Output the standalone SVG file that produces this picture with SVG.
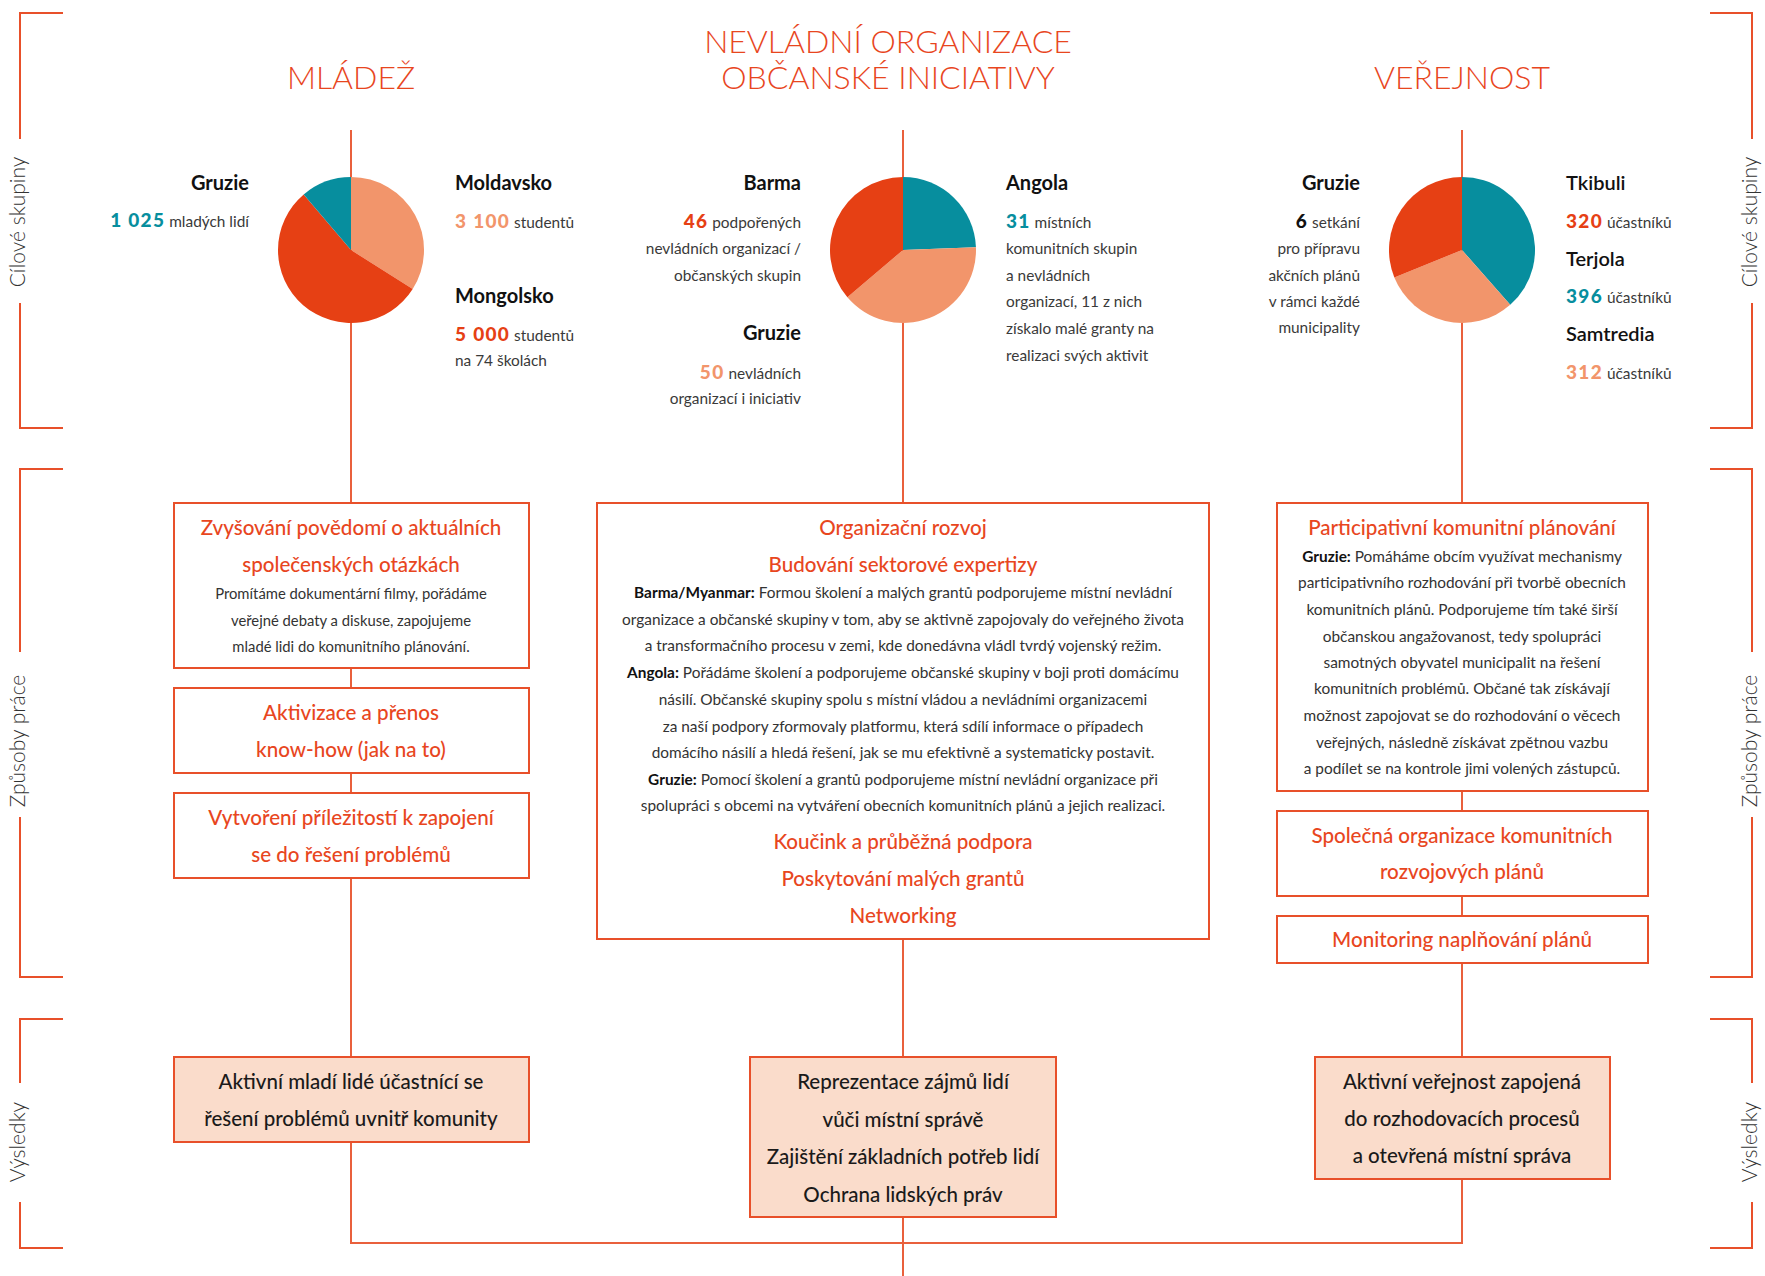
<svg xmlns="http://www.w3.org/2000/svg" width="1765" height="1276" viewBox="0 0 1765 1276">
<style>
text{font-family:Lato,"Liberation Sans",sans-serif}
.ttl{font-weight:300;font-size:32px;fill:#E8461E;text-anchor:middle}
.side{font-weight:300;font-size:21px;fill:#333;text-anchor:middle}
.cn{font-weight:700;font-size:20px;fill:#111}
.cm{font-weight:600;font-size:20px;fill:#111}
.lbl{font-size:15.4px;fill:#3a3a3a}
.num{font-weight:900;font-size:19px;letter-spacing:1.3px}
.e{text-anchor:end}
.h{font-size:20.6px;fill:#E8461E;text-anchor:middle;font-weight:500}
.b{font-size:15.4px;fill:#333;text-anchor:middle}
.bl{font-size:14.8px}
.bb{font-weight:700;fill:#111}
.r{font-size:20.5px;fill:#1a1a1a;text-anchor:middle;font-weight:500}
.box{fill:#fff;stroke:#E8502A;stroke-width:2}
.res{fill:#FADCCB;stroke:#E8502A;stroke-width:2}
.ln{stroke:#E9603C;stroke-width:2;fill:none}
.br{stroke:#E8502A;stroke-width:2;fill:none}
.red{fill:#E64014}.sal{fill:#F2956B}.teal{fill:#078E9E}.blk{fill:#111}
</style>

<g id="brackets">
<path class="br" d="M63,13H20V139M20,303V428H63"/>
<path class="br" d="M63,469H20V652M20,817V977H63"/>
<path class="br" d="M63,1019H20V1083M20,1202V1248H63"/>
<path class="br" d="M1710,13H1752V139M1752,303V428H1710"/>
<path class="br" d="M1710,469H1752V652M1752,817V977H1710"/>
<path class="br" d="M1710,1019H1752V1083M1752,1202V1248H1710"/>
<text class="side" transform="translate(25,222) rotate(-90)">Cílové skupiny</text>
<text class="side" transform="translate(25,741) rotate(-90)">Způsoby práce</text>
<text class="side" transform="translate(25,1142) rotate(-90)">Výsledky</text>
<text class="side" transform="translate(1757,222) rotate(-90)">Cílové skupiny</text>
<text class="side" transform="translate(1757,741) rotate(-90)">Způsoby práce</text>
<text class="side" transform="translate(1757,1142) rotate(-90)">Výsledky</text>
</g>

<g id="titles">
<text class="ttl" x="351" y="89">MLÁDEŽ</text>
<text class="ttl" x="888" y="53">NEVLÁDNÍ ORGANIZACE</text>
<text class="ttl" x="888" y="89">OBČANSKÉ INICIATIVY</text>
<text class="ttl" x="1462" y="89">VEŘEJNOST</text>
</g>

<g id="connectors">
<path class="ln" d="M351,130V1243H1462V130"/>
<path class="ln" d="M903,130V1276"/>
</g>

<g id="pie-youth">
<path class="sal" d="M351,250L351,177A73,73 0 0 1 412.71,289.01Z"/>
<path class="red" d="M351,250L412.71,289.01A73,73 0 1 1 303.69,194.41Z"/>
<path class="teal" d="M351,250L303.69,194.41A73,73 0 0 1 351,177Z"/>
<text class="cn e" x="249" y="190">Gruzie</text>
<text class="lbl e" x="249" y="227"><tspan class="num teal">1 025</tspan> mladých lidí</text>
<text class="cn" x="455" y="190">Moldavsko</text>
<text class="lbl" x="455" y="228"><tspan class="num sal">3 100</tspan> studentů</text>
<text class="cn" x="455" y="303">Mongolsko</text>
<text class="lbl" x="455" y="341"><tspan class="num red">5 000</tspan> studentů</text>
<text class="lbl" x="455" y="366">na 74 školách</text>
</g>

<g id="pie-ngo">
<path class="teal" d="M903,250L903,177A73,73 0 0 1 975.95,247.29Z"/>
<path class="sal" d="M903,250L975.95,247.29A73,73 0 0 1 847.37,297.27Z"/>
<path class="red" d="M903,250L847.37,297.27A73,73 0 0 1 903,177Z"/>
<text class="cn e" x="801" y="190">Barma</text>
<text class="lbl e" x="801" y="228"><tspan class="num red">46</tspan> podpořených</text>
<text class="lbl e" x="801" y="254">nevládních organizací /</text>
<text class="lbl e" x="801" y="281">občanských skupin</text>
<text class="cn e" x="801" y="340">Gruzie</text>
<text class="lbl e" x="801" y="379"><tspan class="num sal">50</tspan> nevládních</text>
<text class="lbl e" x="801" y="404">organizací i iniciativ</text>
<text class="cn" x="1006" y="190">Angola</text>
<text class="lbl" x="1006" y="228"><tspan class="num teal">31</tspan> místních</text>
<text class="lbl" x="1006" y="254">komunitních skupin</text>
<text class="lbl" x="1006" y="281">a nevládních</text>
<text class="lbl" x="1006" y="307">organizací, 11 z nich</text>
<text class="lbl" x="1006" y="334">získalo malé granty na</text>
<text class="lbl" x="1006" y="361">realizaci svých aktivit</text>
</g>

<g id="pie-public">
<path class="teal" d="M1462,250L1462,177A73,73 0 0 1 1510.21,304.82Z"/>
<path class="sal" d="M1462,250L1510.21,304.82A73,73 0 0 1 1394.34,277.41Z"/>
<path class="red" d="M1462,250L1394.34,277.41A73,73 0 0 1 1462,177Z"/>
<text class="cn e" x="1360" y="190">Gruzie</text>
<text class="lbl e" x="1360" y="228"><tspan class="num blk">6</tspan> setkání</text>
<text class="lbl e" x="1360" y="254">pro přípravu</text>
<text class="lbl e" x="1360" y="281">akčních plánů</text>
<text class="lbl e" x="1360" y="307">v rámci každé</text>
<text class="lbl e" x="1360" y="333">municipality</text>
<text class="cm" x="1566" y="190">Tkibuli</text>
<text class="lbl" x="1566" y="228"><tspan class="num red">320</tspan> účastníků</text>
<text class="cm" x="1566" y="266">Terjola</text>
<text class="lbl" x="1566" y="303"><tspan class="num teal">396</tspan> účastníků</text>
<text class="cm" x="1566" y="341">Samtredia</text>
<text class="lbl" x="1566" y="379"><tspan class="num sal">312</tspan> účastníků</text>
</g>

<g id="box-awareness">
<rect class="box" x="174" y="503" width="355" height="165"/>
<text class="h" x="351" y="535">Zvyšování povědomí o aktuálních</text>
<text class="h" x="351" y="572">společenských otázkách</text>
<text class="b bl" x="351" y="599">Promítáme dokumentární filmy, pořádáme</text>
<text class="b bl" x="351" y="626">veřejné debaty a diskuse, zapojujeme</text>
<text class="b bl" x="351" y="652">mladé lidi do komunitního plánování.</text>
</g>
<g id="box-activation">
<rect class="box" x="174" y="688" width="355" height="85"/>
<text class="h" x="351" y="720">Aktivizace a přenos</text>
<text class="h" x="351" y="757">know-how (jak na to)</text>
</g>
<g id="box-opportunities">
<rect class="box" x="174" y="793" width="355" height="85"/>
<text class="h" x="351" y="825">Vytvoření příležitostí k zapojení</text>
<text class="h" x="351" y="862">se do řešení problémů</text>
</g>

<g id="box-ngo">
<rect class="box" x="597" y="503" width="612" height="436"/>
<text class="h" x="903" y="535">Organizační rozvoj</text>
<text class="h" x="903" y="572">Budování sektorové expertizy</text>
<text class="b" x="903" y="598"><tspan class="bb">Barma/Myanmar:</tspan> Formou školení a malých grantů podporujeme místní nevládní</text>
<text class="b" x="903" y="625">organizace a občanské skupiny v tom, aby se aktivně zapojovaly do veřejného života</text>
<text class="b" x="903" y="651">a transformačního procesu v zemi, kde donedávna vládl tvrdý vojenský režim.</text>
<text class="b" x="903" y="678"><tspan class="bb">Angola:</tspan> Pořádáme školení a podporujeme občanské skupiny v boji proti domácímu</text>
<text class="b" x="903" y="705">násilí. Občanské skupiny spolu s místní vládou a nevládními organizacemi</text>
<text class="b" x="903" y="732">za naší podpory zformovaly platformu, která sdílí informace o případech</text>
<text class="b" x="903" y="758">domácího násilí a hledá řešení, jak se mu efektivně a systematicky postavit.</text>
<text class="b" x="903" y="785"><tspan class="bb">Gruzie:</tspan> Pomocí školení a grantů podporujeme místní nevládní organizace při</text>
<text class="b" x="903" y="811">spolupráci s obcemi na vytváření obecních komunitních plánů a jejich realizaci.</text>
<text class="h" x="903" y="849">Koučink a průběžná podpora</text>
<text class="h" x="903" y="886">Poskytování malých grantů</text>
<text class="h" x="903" y="923">Networking</text>
</g>

<g id="box-planning">
<rect class="box" x="1277" y="503" width="371" height="288"/>
<text class="h" x="1462" y="535">Participativní komunitní plánování</text>
<text class="b" x="1462" y="562"><tspan class="bb">Gruzie:</tspan> Pomáháme obcím využívat mechanismy</text>
<text class="b" x="1462" y="588">participativního rozhodování při tvorbě obecních</text>
<text class="b" x="1462" y="615">komunitních plánů. Podporujeme tím také širší</text>
<text class="b" x="1462" y="642">občanskou angažovanost, tedy spolupráci</text>
<text class="b" x="1462" y="668">samotných obyvatel municipalit na řešení</text>
<text class="b" x="1462" y="694">komunitních problémů. Občané tak získávají</text>
<text class="b" x="1462" y="721">možnost zapojovat se do rozhodování o věcech</text>
<text class="b" x="1462" y="748">veřejných, následně získávat zpětnou vazbu</text>
<text class="b" x="1462" y="774">a podílet se na kontrole jimi volených zástupců.</text>
</g>
<g id="box-joint">
<rect class="box" x="1277" y="811" width="371" height="85"/>
<text class="h" x="1462" y="843">Společná organizace komunitních</text>
<text class="h" x="1462" y="879">rozvojových plánů</text>
</g>
<g id="box-monitoring">
<rect class="box" x="1277" y="916" width="371" height="47"/>
<text class="h" x="1462" y="947">Monitoring naplňování plánů</text>
</g>

<g id="result-youth">
<rect class="res" x="174" y="1057" width="355" height="85"/>
<text class="r" x="351" y="1089">Aktivní mladí lidé účastnící se</text>
<text class="r" x="351" y="1126">řešení problémů uvnitř komunity</text>
</g>
<g id="result-ngo">
<rect class="res" x="750" y="1057" width="306" height="160"/>
<text class="r" x="903" y="1089">Reprezentace zájmů lidí</text>
<text class="r" x="903" y="1127">vůči místní správě</text>
<text class="r" x="903" y="1164">Zajištění základních potřeb lidí</text>
<text class="r" x="903" y="1202">Ochrana lidských práv</text>
</g>
<g id="result-public">
<rect class="res" x="1315" y="1057" width="295" height="122"/>
<text class="r" x="1462" y="1089">Aktivní veřejnost zapojená</text>
<text class="r" x="1462" y="1126">do rozhodovacích procesů</text>
<text class="r" x="1462" y="1163">a otevřená místní správa</text>
</g>
</svg>
